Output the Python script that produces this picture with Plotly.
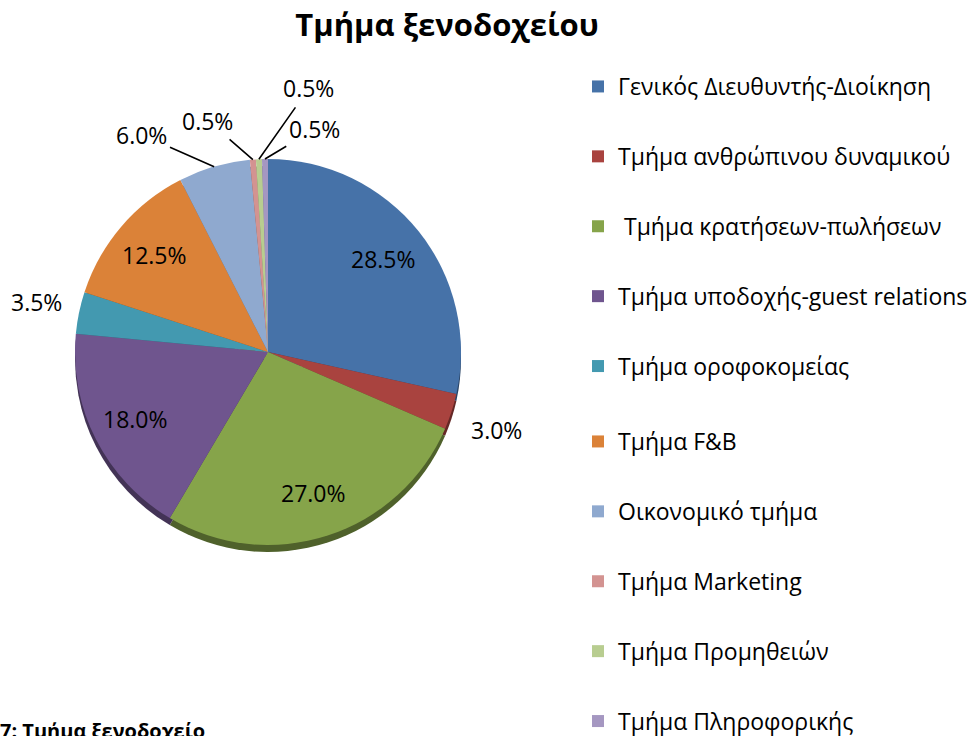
import math
import plotly.graph_objects as go

categories = [
    "Γενικός Διευθυντής-Διοίκηση",
    "Τμήμα ανθρώπινου δυναμικού",
    " Τμήμα κρατήσεων-πωλήσεων",
    "Τμήμα υποδοχής-guest relations",
    "Τμήμα οροφοκομείας",
    "Τμήμα F&B",
    "Οικονομικό τμήμα",
    "Τμήμα Marketing",
    "Τμήμα Προμηθειών",
    "Τμήμα Πληροφορικής",
]
values = [28.5, 3.0, 27.0, 18.0, 3.5, 12.5, 6.0, 0.5, 0.5, 0.5]
colors = ["#4672A8", "#A9433F", "#86A44A", "#6F558E", "#4399B0",
          "#DB8238", "#8FA9CF", "#D39391", "#B8CD90", "#A597C1"]
shadow_colors = ["#2A4466", "#652826", "#4F612B", "#433356", "#285C6A",
                 "#844E22", "#56657C", "#7F5857", "#6E7B56", "#635A74"]
inside = [True, False, True, True, False, True, False, False, False, False]
# label offsets (px) for outside labels: (dx, dy, leader line)
outside_offsets = {1: (45, 18, False), 4: (-43, -11, False), 6: (-73, -32, True),
                   7: (-45, -39, True), 8: (50, -71, True), 9: (50, -30, True)}

W, H = 976, 736
cx, cy, r = 268, 352, 193
shadow_dy = 7
inside_frac = 0.77
FONT = "Open Sans"
LABEL_SIZE = 23

def dom(cx_, cy_, r_):
    return dict(x=[(cx_ - r_) / W, (cx_ + r_) / W],
                y=[(H - cy_ - r_) / H, (H - cy_ + r_) / H])

fig = go.Figure()

# 3D-edge shadow pie
fig.add_trace(go.Pie(
    labels=categories, values=values, sort=False, direction="clockwise",
    rotation=0, domain=dom(cx, cy + shadow_dy, r),
    marker=dict(colors=shadow_colors, line=dict(width=0)),
    textinfo="none", showlegend=False, hoverinfo="skip",
))

# main pie
fig.add_trace(go.Pie(
    labels=categories, values=values, sort=False, direction="clockwise",
    rotation=0, domain=dom(cx, cy, r),
    marker=dict(colors=colors, line=dict(width=0)),
    textinfo="none", showlegend=False,
    hovertemplate="%{label}: %{percent:.1%}<extra></extra>",
))

# data labels, anchored on slice angles computed from the values
total = sum(values)
annotations = []
cum = 0.0
for i, v in enumerate(values):
    mid = (cum + v / 2) / total
    cum += v
    th = 2 * math.pi * mid
    txt = f"{v / total * 100:.1f}%"
    lab_font = dict(family=FONT, size=LABEL_SIZE, color="#000000")
    if inside[i]:
        px = cx + inside_frac * r * math.sin(th)
        py = cy - inside_frac * r * math.cos(th)
        annotations.append(dict(text=txt, xref="paper", yref="paper",
                                x=px / W, y=1 - py / H, showarrow=False,
                                xanchor="center", yanchor="middle", font=lab_font))
        continue
    ex = cx + r * math.sin(th)
    ey = cy - r * math.cos(th)
    dx, dy, line = outside_offsets[i]
    base = dict(text=txt, xref="paper", yref="paper", x=ex / W, y=1 - ey / H,
                font=lab_font)
    if line:
        annotations.append(dict(base, showarrow=True, ax=dx, ay=dy, arrowhead=0,
                                arrowwidth=1.6, arrowcolor="#000000", standoff=0,
                                startstandoff=2))
    else:
        annotations.append(dict(base, showarrow=False, xshift=dx, yshift=-dy,
                                xanchor="center", yanchor="middle"))

annotations.append(dict(text="<b>7: Τμήμα ξενοδοχείο</b>", xref="paper", yref="paper",
                        x=-2 / W, y=(736 - 715) / H, xanchor="left", yanchor="top",
                        showarrow=False,
                        font=dict(family=FONT, size=20, color="#000000")))

# legend entries (two stacked legends so the tall list fits)
for i, (lab, col) in enumerate(zip(categories, colors)):
    fig.add_trace(go.Scatter(
        x=[None], y=[None], mode="markers", name=lab,
        marker=dict(symbol="square", size=14, color=col),
        legendgroup=f"g{i}", showlegend=True, hoverinfo="skip",
        legend="legend" if i < 5 else "legend2",
    ))

leg_common = dict(x=578 / W, xanchor="left",
                  font=dict(family=FONT, size=LABEL_SIZE, color="#000000"),
                  tracegroupgap=37, itemsizing="constant",
                  bgcolor="rgba(0,0,0,0)")

fig.update_layout(
    width=W, height=H,
    margin=dict(l=0, r=0, t=0, b=0, autoexpand=False),
    paper_bgcolor="white", plot_bgcolor="white",
    xaxis=dict(visible=False), yaxis=dict(visible=False),
    title=dict(text="<b>Τμήμα ξενοδοχείου</b>", x=0.458, xanchor="center",
               y=1 - 25 / H, yanchor="middle",
               font=dict(family=FONT, size=31, color="#000000")),
    legend=dict(leg_common, y=1 - 65 / H, yanchor="top"),
    legend2=dict(leg_common, y=-7 / H, yanchor="bottom"),
    annotations=annotations,
)

fig.write_html("out.html", config={"displayModeBar": False},
               post_script="document.body.style.margin='0px';")
